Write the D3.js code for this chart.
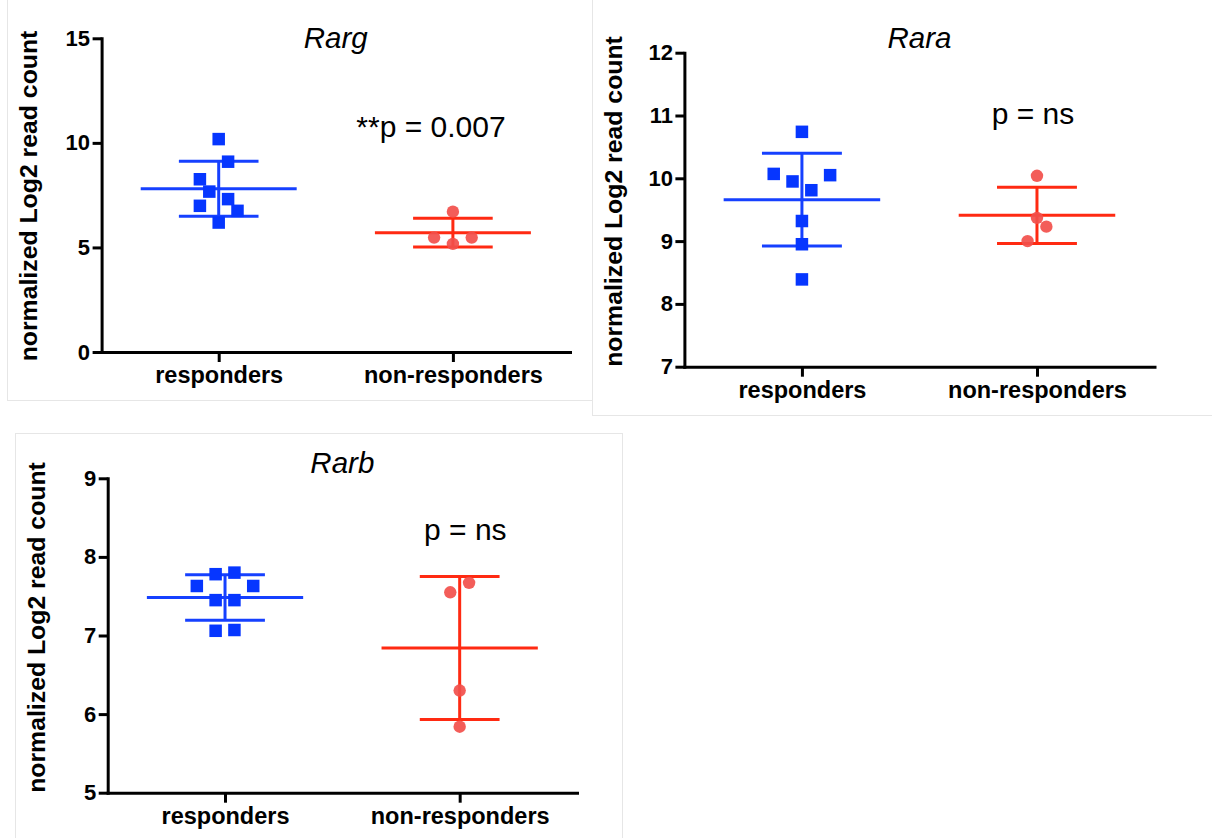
<!DOCTYPE html>
<html>
<head>
<meta charset="utf-8">
<script src="https://cdn.jsdelivr.net/npm/d3@7"></script>
<style>
  html, body { margin: 0; padding: 0; background: #ffffff; }
  svg { display: block; }
</style>
</head>
<body>
<script>
// ---------------- DATA ----------------
const categories = ["responders", "non-responders"];
const geneTitles = ["Rarg", "Rara", "Rarb"];
const pLabels = ["**p = 0.007", "p = ns", "p = ns"];
const yAxisTitle = "normalized Log2 read count";

const rargTicks = [0, 5, 10, 15];
const raraTicks = [7, 8, 9, 10, 11, 12];
const rarbTicks = [5, 6, 7, 8, 9];

// Rarg
const rargResponders     = [10.18, 9.10, 8.26, 7.67, 7.31, 6.99, 6.75, 6.19];
const rargRespSlots      = [0, 1, -2, -1, 1, -2, 2, 0];
const rargNonResponders  = [6.71, 5.47, 5.47, 5.17];
const rargNonRespSlots   = [0, -2, 2, 0];

// Rara
const raraResponders     = [10.74, 10.07, 9.95, 10.05, 9.81, 9.32, 8.95, 8.39];
const raraRespSlots      = [0, -3, -1, 3, 1, 0, 0, 0];
const raraNonResponders  = [10.04, 9.37, 9.23, 9.00];
const raraNonRespSlots   = [0, 0, 1, -1];

// Rarb
const rarbResponders     = [7.78, 7.80, 7.63, 7.63, 7.45, 7.45, 7.06, 7.07];
const rarbRespSlots      = [-1, 1, -3, 3, -1, 1, -1, 1];
const rarbNonResponders  = [7.67, 7.55, 6.30, 5.84];
const rarbNonRespSlots   = [1, -1, 0, 0];

// ---------------- LAYOUT / STYLE ----------------
const FONT = "'Liberation Sans', Arial, Helvetica, sans-serif";
const BLUE_LINE = "#1640ff", BLUE_PT = "#0636ff";
const RED_LINE = "#ff2a12", RED_PT = "#f24f4b";
const SLOT = 9.4;

const panels = [
  { title: geneTitles[0], p: pLabels[0], ticks: rargTicks, domain: [0, 15],
    resp: rargResponders, respSlots: rargRespSlots, non: rargNonResponders, nonSlots: rargNonRespSlots,
    x0: 101.6, x1: 570, yTop: 38.3, yBot: 352,
    frame: [7, -2, 585, 402], titleY: 48, pX: 431, pY: 137.3, labX: 37, labY: 196 },
  { title: geneTitles[1], p: pLabels[1], ticks: raraTicks, domain: [7, 12],
    resp: raraResponders, respSlots: raraRespSlots, non: raraNonResponders, nonSlots: raraNonRespSlots,
    x0: 684.4, x1: 1154.5, yTop: 52.7, yBot: 366.7,
    frame: [592, -2, 622, 417], titleY: 47.7, pX: 1033, pY: 123.5, labX: 621.5, labY: 201.5 },
  { title: geneTitles[2], p: pLabels[2], ticks: rarbTicks, domain: [5, 9],
    resp: rarbResponders, respSlots: rarbRespSlots, non: rarbNonResponders, nonSlots: rarbNonRespSlots,
    x0: 107.7, x1: 577, yTop: 478.3, yBot: 792.7,
    frame: [15, 433, 607, 410], titleY: 473.3, pX: 465.3, pY: 539.5, labX: 45.3, labY: 627.5 }
];

const svg = d3.select("body").append("svg")
  .attr("width", 1212).attr("height", 838)
  .style("font-family", FONT);

panels.forEach(P => {
  const g = svg.append("g");

  g.append("rect")
    .attr("x", P.frame[0] + 0.5).attr("y", P.frame[1] + 0.5)
    .attr("width", P.frame[2]).attr("height", P.frame[3])
    .attr("fill", "none").attr("stroke", "#e6e6e6").attr("stroke-width", 1);

  const y = d3.scaleLinear().domain(P.domain).range([P.yBot, P.yTop]);
  const x = d3.scalePoint().domain(categories).range([P.x0, P.x1]).padding(0.5);
  const step = x.step();

  // y axis
  const ya = g.append("g").attr("transform", `translate(${P.x0},0)`)
    .call(d3.axisLeft(y).tickValues(P.ticks).tickFormat(d3.format("d"))
      .tickSize(9).tickPadding(2.5).tickSizeOuter(0));
  ya.select(".domain").attr("stroke", "#000").attr("stroke-width", 3).attr("stroke-linecap", "square");
  ya.selectAll(".tick line").attr("stroke", "#000").attr("stroke-width", 3);
  ya.selectAll(".tick text").attr("fill", "#000").style("font-size", "22px").style("font-weight", "bold").style("font-family", FONT);

  // x axis
  const xa = g.append("g").attr("transform", `translate(0,${P.yBot})`)
    .call(d3.axisBottom(x).tickSize(10).tickPadding(4.3).tickSizeOuter(0));
  xa.select(".domain").attr("stroke", "#000").attr("stroke-width", 3).attr("stroke-linecap", "square");
  xa.selectAll(".tick line").attr("stroke", "#000").attr("stroke-width", 3);
  xa.selectAll(".tick text").attr("fill", "#000").style("font-size", "23.5px").style("font-weight", "bold").style("font-family", FONT);

  // y title
  g.append("text")
    .attr("transform", `translate(${P.labX},${P.labY}) rotate(-90)`)
    .attr("text-anchor", "middle")
    .style("font-size", "24.8px").style("font-weight", "bold")
    .text(yAxisTitle);

  // title
  g.append("text")
    .attr("x", (P.x0 + P.x1) / 2).attr("y", P.titleY)
    .attr("text-anchor", "middle")
    .style("font-size", "29.5px").style("font-style", "italic")
    .text(P.title);

  // p label
  g.append("text")
    .attr("x", P.pX).attr("y", P.pY)
    .attr("text-anchor", "middle")
    .style("font-size", "30px")
    .text(P.p);

  const series = [
    { vals: P.resp, slots: P.respSlots, cat: categories[0], line: BLUE_LINE, pt: BLUE_PT, shape: "square" },
    { vals: P.non, slots: P.nonSlots, cat: categories[1], line: RED_LINE, pt: RED_PT, shape: "circle" }
  ];

  series.forEach(S => {
    const cx = x(S.cat);
    const m = d3.mean(S.vals);
    const sd = d3.deviation(S.vals);
    const eg = g.append("g").attr("stroke", S.line).attr("stroke-width", 3).attr("fill", "none");
    eg.append("line").attr("x1", cx - 0.333 * step).attr("x2", cx + 0.333 * step).attr("y1", y(m)).attr("y2", y(m));
    eg.append("line").attr("x1", cx).attr("x2", cx).attr("y1", y(m + sd)).attr("y2", y(m - sd));
    eg.append("line").attr("x1", cx - 0.17 * step).attr("x2", cx + 0.17 * step).attr("y1", y(m + sd)).attr("y2", y(m + sd));
    eg.append("line").attr("x1", cx - 0.17 * step).attr("x2", cx + 0.17 * step).attr("y1", y(m - sd)).attr("y2", y(m - sd));

    const pts = S.vals.map((v, i) => ({ v, s: S.slots[i] }));
    if (S.shape === "square") {
      g.selectAll(null).data(pts).enter().append("rect")
        .attr("x", d => cx + d.s * SLOT - 6.25).attr("y", d => y(d.v) - 6.25)
        .attr("width", 12.5).attr("height", 12.5)
        .attr("fill", S.pt);
    } else {
      g.selectAll(null).data(pts).enter().append("circle")
        .attr("cx", d => cx + d.s * SLOT).attr("cy", d => y(d.v))
        .attr("r", 6.2)
        .attr("fill", S.pt).attr("fill-opacity", 0.92);
    }
  });
});
</script>
</body>
</html>
